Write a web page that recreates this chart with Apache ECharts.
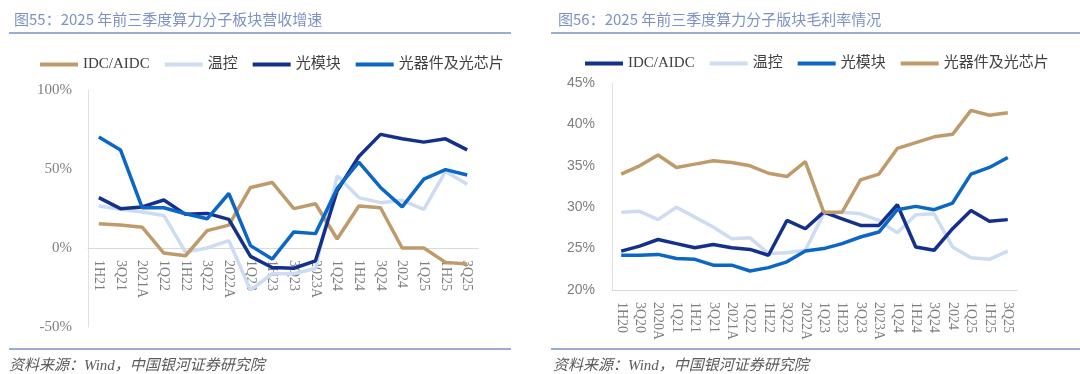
<!DOCTYPE html>
<html>
<head>
<meta charset="utf-8">
<script src="https://cdn.jsdelivr.net/npm/echarts@6/dist/echarts.min.js"></script>
<style>
html,body{margin:0;padding:0;background:#fff;}
#wrap{position:relative;width:1080px;height:374px;}
#c1{position:absolute;left:0;top:0;width:540px;height:374px;}
#c2{position:absolute;left:540px;top:0;width:540px;height:374px;}
</style>
</head>
<body>
<div id="wrap"><div id="c1"></div><div id="c2"></div></div>
<script>
// ---- Left chart data: 2025年前三季度算力分子板块营收增速 (%) ----
const leftCategories = ['1H21','3Q21','2021A','1Q22','1H22','3Q22','2022A','1Q23','1H23','3Q23','2023A','1Q24','1H24','3Q24','2024','1Q25','1H25','3Q25'];
const leftIDC    = [15.3, 14.5, 13.2, -3.2, -4.9, 11.0, 14.5, 38.3, 41.5, 24.9, 28.0, 5.7, 26.6, 25.5, 0.0, 0.0, -9.1, -10.2];
const leftThermal= [26.6, 24.5, 22.8, 20.6, -2.6, 0.0, 4.7, -26.7, -16.3, -16.3, -13.0, 45.7, 31.9, 28.7, 30.2, 24.5, 48.5, 40.4];
const leftModule = [31.9, 24.9, 26.0, 30.4, 21.3, 21.9, 18.1, -5.3, -12.3, -12.8, -8.1, 36.2, 57.9, 71.9, 69.1, 67.0, 69.1, 62.1];
const leftDevice = [70.2, 62.1, 25.5, 25.5, 21.7, 18.5, 34.5, 1.5, -7.0, 10.2, 9.1, 37.7, 54.3, 38.3, 26.0, 43.6, 49.6, 46.2];
const leftYTicks = [-50, 0, 50, 100];

// ---- Right chart data: 2025年前三季度算力分子版块毛利率情况 (%) ----
const rightCategories = ['1H20','3Q20','2020A','1Q21','1H21','3Q21','2021A','1Q22','1H22','3Q22','2022A','1Q23','1H23','3Q23','2023A','1Q24','1H24','3Q24','2024','1Q25','1H25','3Q25'];
const rightIDC    = [24.7, 25.3, 26.1, 25.6, 25.1, 25.5, 25.1, 24.9, 24.2, 28.4, 27.4, 29.4, 28.6, 27.8, 27.8, 30.3, 25.2, 24.8, 27.4, 29.6, 28.3, 28.5];
const rightThermal= [29.4, 29.5, 28.5, 30.0, 28.8, 27.6, 26.2, 26.3, 24.4, 24.5, 24.8, 29.2, 29.4, 29.2, 28.4, 26.9, 29.1, 29.2, 25.2, 23.9, 23.7, 24.7];
const rightModule = [24.2, 24.2, 24.3, 23.8, 23.7, 23.0, 23.0, 22.3, 22.7, 23.4, 24.7, 25.0, 25.6, 26.4, 27.0, 29.7, 30.1, 29.7, 30.5, 34.0, 34.8, 36.0];
const rightDevice = [34.0, 35.0, 36.3, 34.8, 35.2, 35.6, 35.4, 35.0, 34.1, 33.7, 35.5, 29.4, 29.4, 33.3, 34.0, 37.1, 37.8, 38.5, 38.8, 41.7, 41.1, 41.4];
const rightYTicks = [20, 25, 30, 35, 40, 45];

const seriesNames = ['IDC/AIDC', '温控', '光模块', '光器件及光芯片'];

const TAN = '#bf9b6b', LIGHT = '#cddcf0', NAVY = '#13318c', BLUE = '#0c66c6';
const SERIF = '"Liberation Serif", "DejaVu Serif", "Noto Sans CJK SC", serif';
const SANS = '"Liberation Sans", Arial, "Noto Sans CJK SC", sans-serif';
const TITLE_FONT = '"Noto Sans CJK SC", "Noto Sans", sans-serif';
const RULE = '#7b8fc4';

function frame(titleText, x0, x1, titleLeft) {
  return {
    title: {
      text: titleText, left: titleLeft, top: 7,
      textStyle: { fontFamily: TITLE_FONT, fontSize: 15, fontWeight: 'normal', color: '#7d92c4' }
    },
    graphic: [
      { type: 'line', shape: { x1: x0, y1: 33, x2: x1, y2: 33 }, style: { stroke: RULE, lineWidth: 1.5 } },
      { type: 'line', shape: { x1: x0, y1: 349, x2: x1, y2: 349 }, style: { stroke: RULE, lineWidth: 1.5 } },
      { type: 'text', left: titleLeft, top: 359,
        style: { text: '资料来源：Wind，中国银河证券研究院', fontFamily: SERIF, fontStyle: 'italic', fontSize: 15, fill: '#5a5a5a' } }
    ]
  };
}

function mkSeries(names, datas, colors) {
  return names.map((n, i) => ({
    name: n, type: 'line', data: datas[i], symbol: 'none',
    lineStyle: { width: 3.5, color: colors[i] }, itemStyle: { color: colors[i] },
    z: i === 1 ? 1 : 2 + i, animation: false
  }));
}

// Left chart
const L_TOP = 90, L_H = 237;
const leftMin = leftYTicks[0], leftMax = leftYTicks[leftYTicks.length - 1];
const zeroOffset = -L_H * (0 - leftMin) / (leftMax - leftMin); // move x axis up to the zero line
const c1 = echarts.init(document.getElementById('c1'), null, { renderer: 'canvas' });
const f1 = frame('图55：2025 年前三季度算力分子板块营收增速', 9, 511, 9);
c1.setOption({
  animation: false,
  title: f1.title,
  graphic: f1.graphic,
  legend: {
    left: 35, top: 52, icon: 'rect', itemWidth: 38, itemHeight: 4, itemGap: 15,
    data: seriesNames,
    textStyle: { fontFamily: SERIF, fontSize: 15, color: '#404040' }
  },
  grid: { left: 88, top: L_TOP, width: 390, height: L_H },
  xAxis: {
    type: 'category', data: leftCategories, boundaryGap: true,
    offset: zeroOffset,
    axisLine: { onZero: false, lineStyle: { color: '#d9d9d9', width: 1 } },
    axisTick: { show: false },
    axisLabel: { rotate: -90, interval: 0, margin: 12, fontFamily: SERIF, fontSize: 14, color: '#7f7f7f' }
  },
  yAxis: {
    type: 'value', min: leftMin, max: leftMax, interval: 50,
    axisLine: { show: true, lineStyle: { color: '#e0e0e0' } },
    axisTick: { show: false }, splitLine: { show: false },
    axisLabel: { formatter: '{value}%', margin: 16, fontFamily: SERIF, fontSize: 15, color: '#7f7f7f' }
  },
  series: mkSeries(seriesNames, [leftIDC, leftThermal, leftModule, leftDevice], [TAN, LIGHT, NAVY, BLUE])
});

// Right chart
const c2 = echarts.init(document.getElementById('c2'), null, { renderer: 'canvas' });
const f2 = frame('图56：2025 年前三季度算力分子版块毛利率情况', 11, 540, 13);
c2.setOption({
  animation: false,
  title: f2.title,
  graphic: f2.graphic,
  legend: {
    left: 40, top: 51, icon: 'rect', itemWidth: 38, itemHeight: 4, itemGap: 15,
    data: seriesNames,
    textStyle: { fontFamily: SERIF, fontSize: 15, color: '#404040' }
  },
  grid: { left: 72, top: 83, width: 405, height: 207 },
  xAxis: {
    type: 'category', data: rightCategories, boundaryGap: true,
    axisLine: { lineStyle: { color: '#d9d9d9', width: 1 } },
    axisTick: { show: false },
    axisLabel: { rotate: -90, interval: 0, margin: 12, fontFamily: SERIF, fontSize: 14, color: '#7f7f7f' }
  },
  yAxis: {
    type: 'value', min: rightYTicks[0], max: rightYTicks[rightYTicks.length - 1], interval: 5,
    axisLine: { show: true, lineStyle: { color: '#e0e0e0' } },
    axisTick: { show: false }, splitLine: { show: false },
    axisLabel: { formatter: '{value}%', margin: 17, fontFamily: SANS, fontSize: 14, color: '#7f7f7f' }
  },
  series: mkSeries(seriesNames, [rightIDC, rightThermal, rightModule, rightDevice], [NAVY, LIGHT, BLUE, TAN])
});
</script>
</body>
</html>
